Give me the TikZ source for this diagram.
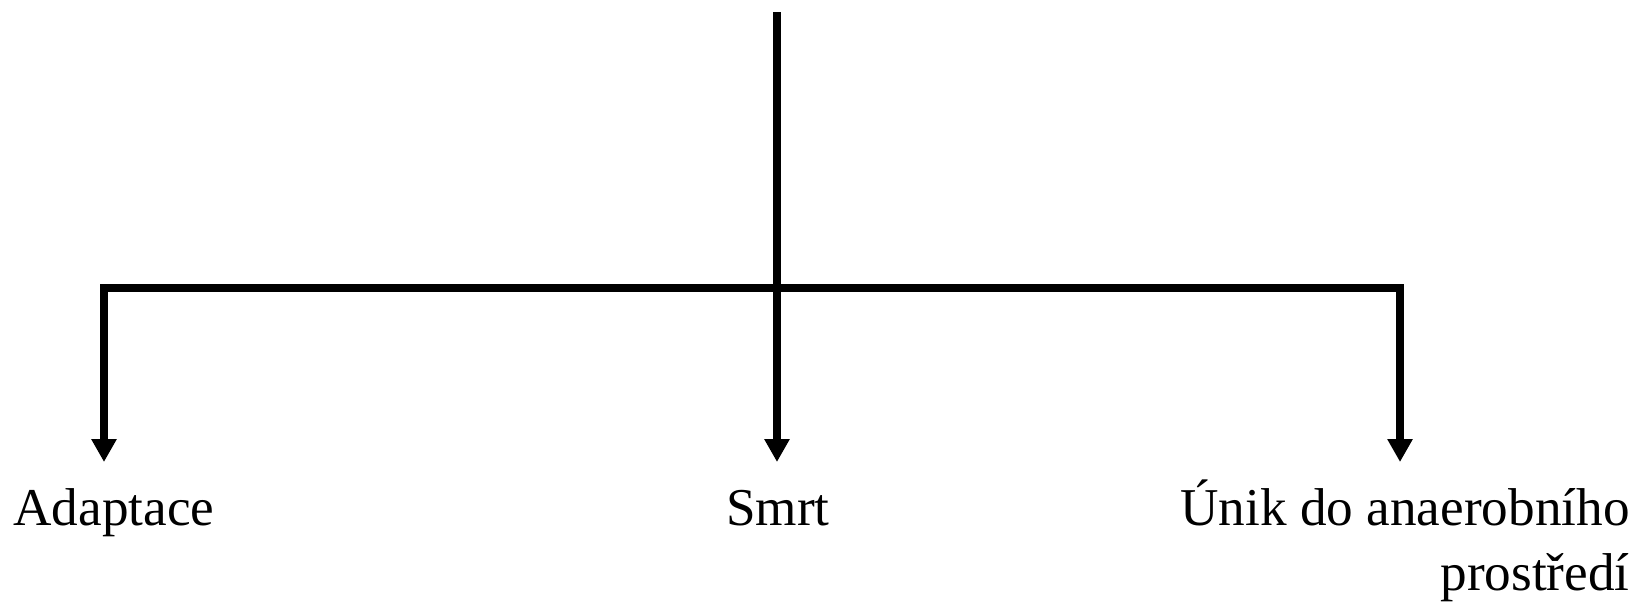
\documentclass[tikz,border=0pt]{standalone}
\usepackage{fontspec}
\setmainfont{Liberation Serif}
\usetikzlibrary{arrows.meta}

\begin{document}
\begin{tikzpicture}[
    x=0.5pt, y=-0.5pt,
    lbl/.style={inner sep=0pt, font=\fontsize{26.6}{32.5}\selectfont},
    arrow/.style={-{Triangle[width=12pt, length=11.5pt]}, line width=4pt, draw=black}
]
    \useasboundingbox (0,0) rectangle (1637,602);

    % Stem and branching point
    \coordinate (top) at (777,12);
    \coordinate (split) at (777,288);

    % Outcomes
    \node[lbl, anchor=base west] (adapt) at (13,525) {Adaptace};
    \node[lbl, anchor=base] (smrt) at (778,525) {Smrt};
    \node[lbl, anchor=base east, align=right] (unik) at (1630,590) {Únik do anaerobního\\prostředí};

    % Arrow ends
    \coordinate (endA) at (104,462);
    \coordinate (endS) at (777,462);
    \coordinate (endU) at (1400,462);

    % Connections
    \draw[arrow] (top) -- (endS);
    \draw[arrow] (split) -| (endA);
    \draw[arrow] (split) -| (endU);
\end{tikzpicture}
\end{document}
